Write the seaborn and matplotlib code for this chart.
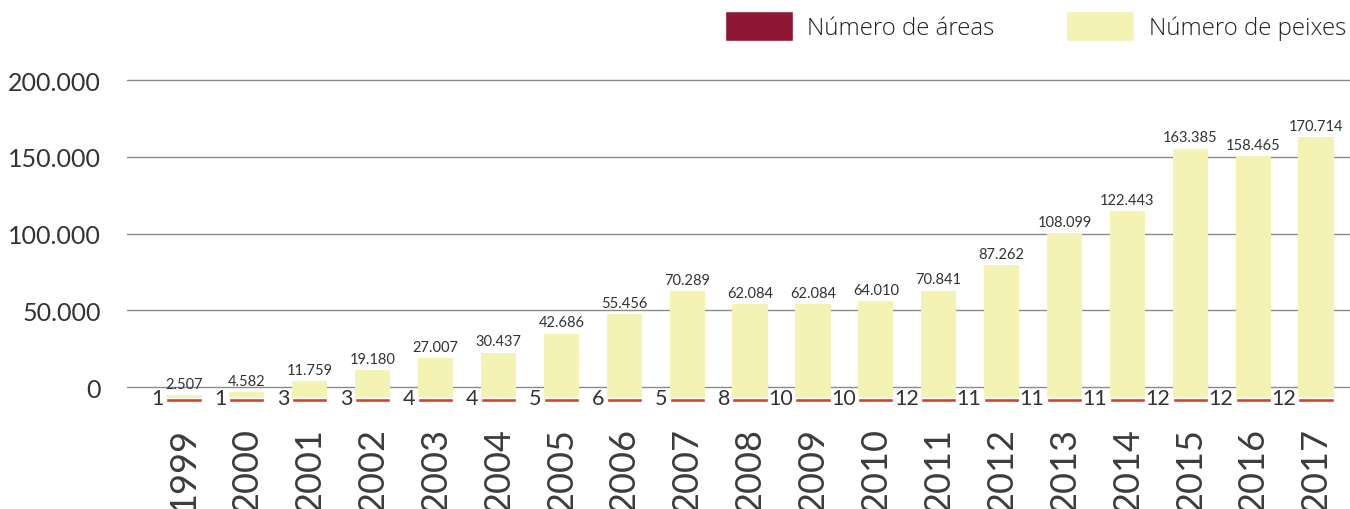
import matplotlib
matplotlib.use("Agg")
import matplotlib.pyplot as plt
from matplotlib.patches import Patch
import seaborn as sns
import pandas as pd

years = ["1999", "2000", "2001", "2002", "2003", "2004", "2005", "2006", "2007", "2008",
         "2009", "2010", "2011", "2012", "2013", "2014", "2015", "2016", "2017"]
peixes = [2507, 4582, 11759, 19180, 27007, 30437, 42686, 55456, 70289, 62084,
          62084, 64010, 70841, 87262, 108099, 122443, 163385, 158465, 170714]
areas = [1, 1, 3, 3, 4, 4, 5, 6, 5, 8, 10, 10, 12, 11, 11, 11, 12, 12, 12]
yticks = [0, 50000, 100000, 150000, 200000]

yellow = "#F5F3B4"
strip_red = "#C8482F"
legend_red = "#8E1733"
text_col = "#333333"

sns.set_theme(style="white")
plt.rcParams["font.family"] = ["Lato", "DejaVu Sans"]

df = pd.DataFrame({"ano": years, "peixes": peixes, "areas": areas})

fig = plt.figure(figsize=(13.5, 5.1), dpi=100)
ax = fig.add_axes([127 / 1350, 100 / 510, 1 - 127 / 1350, 350 / 510])

base = 8000  # bars start a little under the zero line, as in the original
sns.barplot(data=df, x="ano", y="peixes", color=yellow, saturation=1, width=0.56,
            bottom=-base, ax=ax, zorder=3, linewidth=0)

x = range(len(years))
ax.bar(x, [2600] * len(years), bottom=-base - 1600, width=0.56, color=strip_red, zorder=4)

for i, (v, a) in enumerate(zip(peixes, areas)):
    ax.text(i, v - base + 2800, f"{v:,}".replace(",", "."), ha="center", va="bottom",
            fontsize=10.5, color=text_col)
    ax.text(i - 0.32, -base + 600, str(a), ha="right", va="center",
            fontsize=15.5, color=text_col)

ax.set_ylim(-14333, 213700)
ax.set_xlim(-0.906, 18.54)
ax.set_yticks(yticks)
ax.set_yticklabels([f"{t:,}".replace(",", ".") for t in yticks], fontsize=18, color=text_col)
ax.tick_params(axis="y", length=0, pad=19)
ax.grid(axis="y", color="#8a8a8a", linewidth=1, zorder=0)
ax.set_axisbelow(True)

ax.set_xticks(list(x))
ax.set_xticklabels(years, rotation=90, fontsize=26, color="#3c3c3c", fontweight="normal",
                   va="top")
ax.tick_params(axis="x", length=0, pad=13)
ax.set_xlabel("")
ax.set_ylabel("")
for s in ax.spines.values():
    s.set_visible(False)

handles = [Patch(facecolor=legend_red, label="Número de áreas"),
           Patch(facecolor=yellow, label="Número de peixes")]
fig.legend(handles=handles, loc="upper right", bbox_to_anchor=(1.006, 1.0), ncol=2,
           frameon=False, handlelength=2.83, handleheight=1.57,
           handletextpad=0.6, columnspacing=3.0, borderaxespad=0.1,
           labelcolor="#222222",
           prop={"family": ["Open Sans", "DejaVu Sans"], "size": 17.3, "weight": "light"})

fig.savefig("out.png", dpi=100)
